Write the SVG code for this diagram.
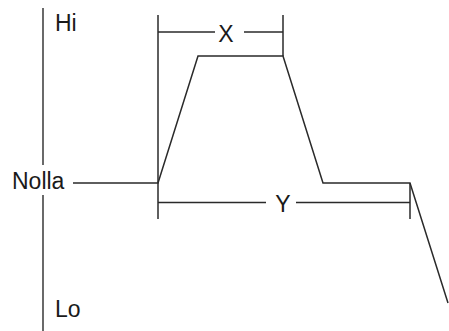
<svg xmlns="http://www.w3.org/2000/svg" width="449" height="331" viewBox="0 0 449 331">
<style>
.ln{fill:none;stroke:#2a2a2a;stroke-width:1.5;stroke-linecap:butt;stroke-linejoin:miter}
.ax{fill:none;stroke:#444;stroke-width:1.6}
.t{font-family:"Liberation Sans",Arial,sans-serif;font-size:23px;fill:#1a1a1a}
</style>
<rect width="449" height="331" fill="#fff"/>
<g id="axis">
<line class="ax" x1="43" y1="8" x2="43" y2="165"/>
<line class="ax" x1="43" y1="195" x2="43" y2="331"/>
</g>
<g id="labels">
<text class="t" x="55" y="31">Hi</text>
<text class="t" x="12" y="189">Nolla</text>
<text class="t" x="55" y="317">Lo</text>
</g>
<g id="waveform">
<polyline class="ln" points="73,183 158,183 198,56 283,56 323,183 410,183 448,303"/>
</g>
<g id="dimension-x">
<line class="ln" x1="158" y1="15" x2="158" y2="183"/>
<line class="ln" x1="283" y1="15" x2="283" y2="56"/>
<line class="ln" x1="158" y1="32" x2="215" y2="32"/>
<line class="ln" x1="244" y1="32" x2="283" y2="32"/>
<text class="t" x="226" y="42" text-anchor="middle">X</text>
</g>
<g id="dimension-y">
<line class="ln" x1="158" y1="183" x2="158" y2="219"/>
<line class="ln" x1="410" y1="183" x2="410" y2="219"/>
<line class="ln" x1="158" y1="202.5" x2="266" y2="202.5"/>
<line class="ln" x1="296" y1="202.5" x2="410" y2="202.5"/>
<text class="t" x="283" y="212" text-anchor="middle">Y</text>
</g>
</svg>
